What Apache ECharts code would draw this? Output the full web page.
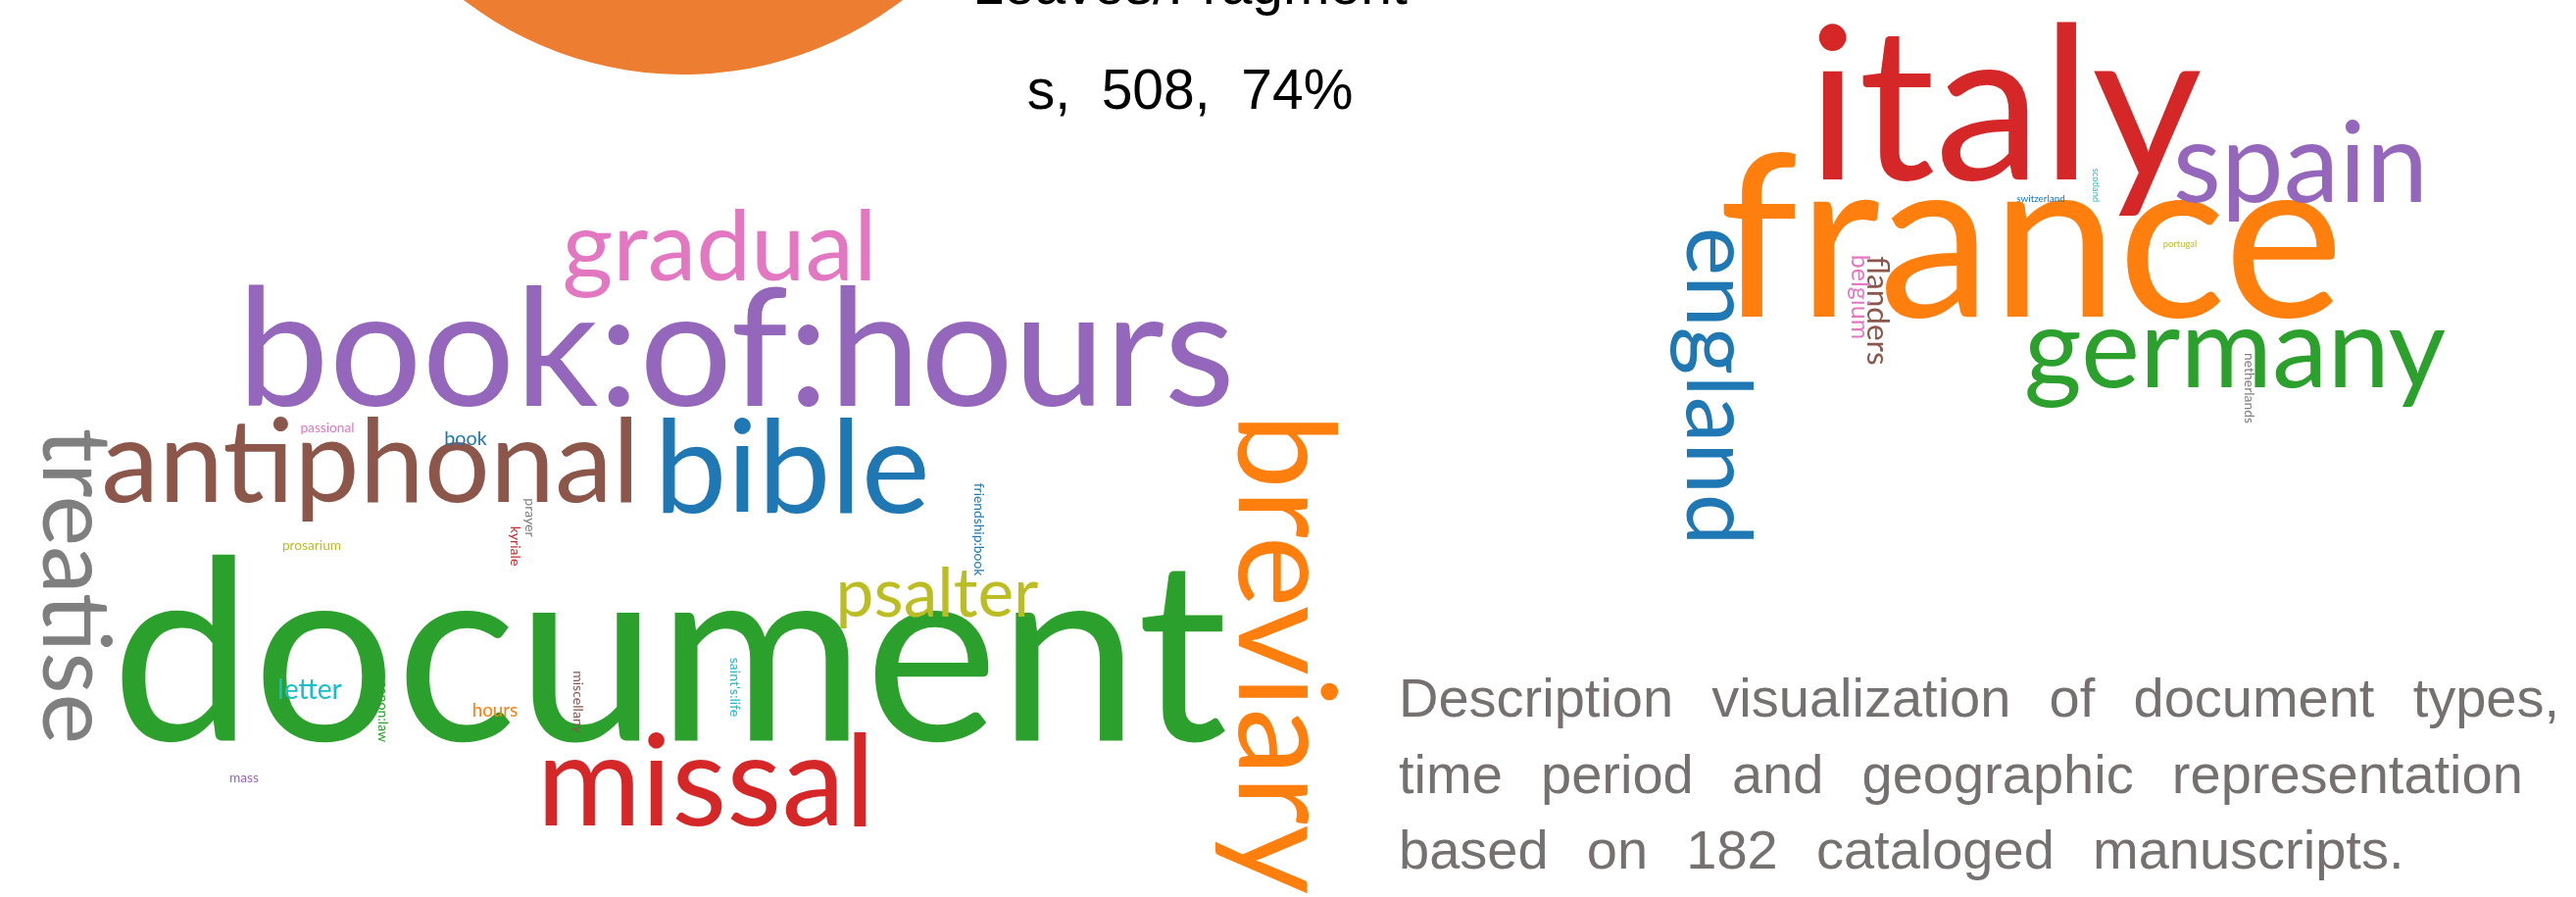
<!DOCTYPE html>
<html>
<head>
<meta charset="utf-8">
<title>Manuscript descriptions</title>
<script src="https://cdn.jsdelivr.net/npm/echarts@6/dist/echarts.min.js"></script>
<style>
    html, body { margin: 0; padding: 0; background: #fff; }
    #main { width: 2628px; height: 915px; }
</style>
</head>
<body>
<div id="main"></div>
<script>
// pie of item types (only the bottom of the orange slice shows on the slide)
var pieNames = ['Other', 'Leaves/Fragments'];
var pieValues = [178, 508];

// word cloud 1 : document types
var docWords = ['document', 'book:of:hours', 'antiphonal', 'bible', 'breviary', 'gradual', 'missal',
    'treatise', 'psalter', 'letter', 'hours', 'book', 'passional', 'prosarium', 'prayer', 'kyriale',
    'friendship:book', 'canon:law', 'miscellany', "saint's:life", 'mass'];
var docWeights = [274, 178, 126, 141, 147, 106, 138, 104, 74, 30, 20, 21, 14.6, 14.6, 15, 15, 14.7, 15, 15, 15, 14.6];

// word cloud 2 : places of origin
var placeWords = ['italy', 'france', 'spain', 'germany', 'england', 'flanders', 'belgium',
    'netherlands', 'switzerland', 'scotland', 'portugal'];
var placeWeights = [232, 246, 121, 121, 100, 33.6, 26.5, 14.8, 10.5, 10, 10];

// caption
var descWords = [
    ['Description', 'visualization', 'of', 'document', 'types,'],
    ['time', 'period', 'and', 'geographic', 'representation'],
    ['based', 'on', '182', 'cataloged', 'manuscripts.']
];

// ---- layout / style ----
// [x, y, rotate] : flat words -> centre x + baseline y, turned words -> baseline x + centre y
var docLayout = [
    [683, 772, 0], [751, 425, 0], [378, 520, 0], [808, 532, 0], [1255, 667, -90], [734, 292, 0], [720, 850, 0],
    [38, 598, -90], [956, 633, 0], [316, 715, 0], [505, 732, 0], [475, 455, 0], [334, 442, 0], [318, 562, 0],
    [535, 528, -90], [520, 557, -90], [993, 540, -90], [385, 726, -90], [584, 716, -90], [744, 701, -90], [249, 799, 0]
];
var placeLayout = [
    [2045, 197, 0], [2072, 338, 0], [2347, 213, 0], [2280, 402, 0], [1715, 394, -90], [1903, 317, -90],
    [1887, 303, -90], [2289, 396, -90], [2082, 207, 0], [2134, 189, -90], [2224, 253, 0]
];

var C = {
    blue: '#1f77b4', orange: '#ff7f0e', green: '#2ca02c', red: '#d62728', purple: '#9467bd',
    brown: '#8c564b', pink: '#e377c2', gray: '#7f7f7f', olive: '#bcbd22', cyan: '#17becf'
};
var docColors = [C.green, C.purple, C.brown, C.blue, C.orange, C.pink, C.red, C.gray, C.olive, C.cyan,
    C.orange, C.blue, C.pink, C.olive, C.gray, C.red, C.blue, C.green, C.brown, C.cyan, C.purple];
var placeColors = [C.red, C.orange, C.purple, C.green, C.blue, C.brown, C.pink, C.gray, C.blue, C.cyan, C.olive];

var W = 2628, H = 915;
var SIZE_K = 0.94;      // weight -> Lato font size
var MID = 0.387;        // Lato: baseline sits this far (x font size) under the text middle
var GAP = '\u2002\u2009';  // wide word gap of the caption
var cloudFont = 'Lato, "Open Sans", sans-serif';
var slideFont = '"Liberation Sans", Arial, sans-serif';

function cloudData(words, weights, layout, colors) {
    return words.map(function (w, i) {
        var fs = weights[i] * SIZE_K;
        var p = layout[i];
        var x = p[0], y = p[1];
        if (p[2] === 0) {
            y = y - MID * fs;
        } else {
            x = x + MID * fs;
        }
        return {
            name: w,
            value: [x, y],
            label: {fontSize: fs, color: colors[i], rotate: p[2]}
        };
    });
}

function cloudSeries(name, data) {
    return {
        name: name,
        type: 'scatter',
        symbolSize: 1,
        silent: true,
        itemStyle: {color: 'rgba(0,0,0,0)', opacity: 1},
        label: {
            show: true,
            position: 'inside',
            formatter: '{b}',
            fontFamily: cloudFont,
            align: 'center',
            verticalAlign: 'middle',
            opacity: 1
        },
        data: data
    };
}

var pieData = pieNames.map(function (n, i) {
    return {name: n, value: pieValues[i]};
});
// the slide wraps this label inside a fixed box: "Leaves/Fragment" | "s, 508, 74%"
pieData[1].label = {
    show: true,
    position: 'inside',
    formatter: function (p) {
        return p.name + ',  ' + p.value + ',  ' + Math.round(p.percent) + '%';
    },
    fontFamily: slideFont,
    fontSize: 57,
    lineHeight: 107,
    color: '#000',
    width: 460,
    overflow: 'breakAll',
    align: 'center'
};

var option = {
    backgroundColor: '#fff',
    animation: false,
    title: {
        left: 1427,
        top: 677,
        padding: 0,
        text: descWords.map(function (l) { return l.join(GAP); }).join('\n'),
        textStyle: {
            fontFamily: slideFont,
            fontWeight: 'normal',
            fontSize: 56,
            lineHeight: 77.5,
            color: '#767171'
        }
    },
    grid: {left: 0, right: 0, top: 0, bottom: 0},
    xAxis: {type: 'value', min: 0, max: W, show: false},
    yAxis: {type: 'value', min: 0, max: H, inverse: true, show: false},
    series: [
        {
            type: 'pie',
            center: [697, -292],
            radius: 368,
            startAngle: 90,
            clockwise: true,
            silent: true,
            avoidLabelOverlap: false,
            color: ['#4472c4', '#ed7d31'],
            label: {show: false},
            labelLine: {show: false},
            labelLayout: function (params) {
                if (params.dataIndex === 1) {
                    return {x: 1214, y: 42, align: 'center', verticalAlign: 'middle'};
                }
            },
            data: pieData
        },
        cloudSeries('types', cloudData(docWords, docWeights, docLayout, docColors)),
        cloudSeries('places', cloudData(placeWords, placeWeights, placeLayout, placeColors))
    ]
};

var chart = echarts.init(document.getElementById('main'), null, {renderer: 'canvas'});
chart.setOption(option);
</script>
</body>
</html>
